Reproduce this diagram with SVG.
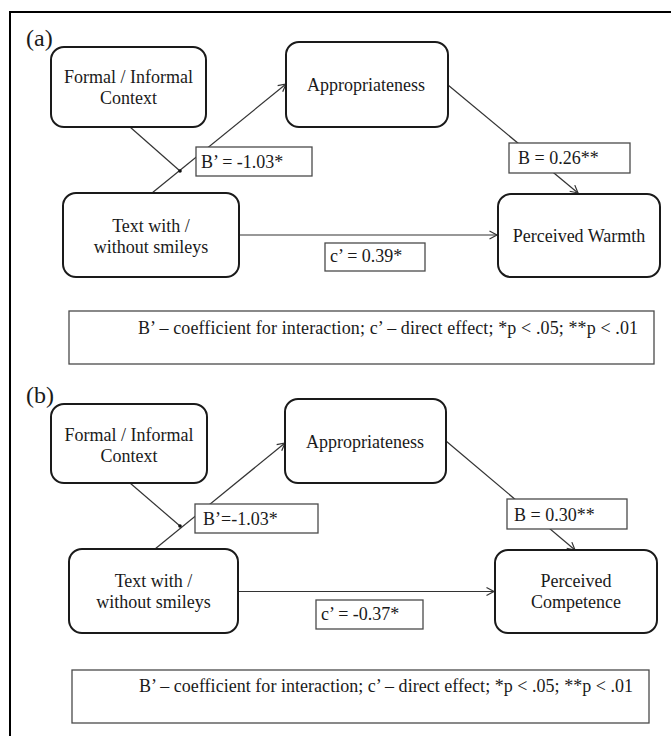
<svg xmlns="http://www.w3.org/2000/svg" width="671" height="736" viewBox="0 0 671 736">
<defs>
<style>
.node{fill:#fff;stroke:#1a1a1a;stroke-width:2}
.lab{fill:#fff;stroke:#4a4a4a;stroke-width:1.3}
.t{font-family:'Liberation Serif','Times New Roman',serif;font-size:18px;fill:#1a1a1a}
.pl{font-family:'Liberation Serif','Times New Roman',serif;font-size:24px;fill:#1a1a1a}
.c{fill:none;stroke:#333;stroke-width:1.2}
</style>
<marker id="ah" markerWidth="12" markerHeight="12" refX="10" refY="6" orient="auto" markerUnits="userSpaceOnUse">
<path d="M2.5,2 L10,6 L2.5,10" fill="none" stroke="#333" stroke-width="1.2"/>
</marker>
</defs>
<rect width="671" height="736" fill="#fff"/>
<path d="M10,736 V12 H671" fill="none" stroke="#000" stroke-width="2"/>

<g font-family="'Liberation Serif','Times New Roman',serif">
<!-- Panel (a) -->
<g id="connectors-a">
<line class="c" x1="152" y1="193" x2="286" y2="84" marker-end="url(#ah)"/>
<line class="c" x1="130" y1="127" x2="180" y2="171"/>
<circle cx="180" cy="171" r="1.8" fill="#111"/>
<line class="c" x1="448" y1="85" x2="578" y2="193" marker-end="url(#ah)"/>
<line class="c" x1="239" y1="235" x2="497" y2="235" marker-end="url(#ah)"/>
</g>
<text class="pl" x="26" y="46">(a)</text>
<g id="a-context"><rect class="node" x="51" y="47" width="155" height="80" rx="13"/>
<text class="t" x="128.5" y="83" text-anchor="middle">Formal / Informal</text>
<text class="t" x="128.5" y="104" text-anchor="middle">Context</text></g>
<g id="a-approp"><rect class="node" x="286" y="42" width="162" height="85" rx="13"/>
<text class="t" x="366" y="91" text-anchor="middle">Appropriateness</text></g>
<g id="a-text"><rect class="node" x="63" y="193" width="176" height="84" rx="13"/>
<text class="t" x="151" y="232" text-anchor="middle">Text with /</text>
<text class="t" x="151" y="253" text-anchor="middle">without smileys</text></g>
<g id="a-warmth"><rect class="node" x="498" y="194" width="162" height="83" rx="13"/>
<text class="t" x="579" y="242" text-anchor="middle">Perceived Warmth</text></g>
<g id="a-bprime"><rect class="lab" x="196" y="147" width="116" height="29"/>
<text class="t" x="201" y="168">B’ = -1.03*</text></g>
<g id="a-b"><rect class="lab" x="509" y="143" width="121" height="30"/>
<text class="t" x="518" y="164">B = 0.26**</text></g>
<g id="a-c"><rect class="lab" x="325" y="243" width="100" height="28"/>
<text class="t" x="330" y="262">c’ = 0.39*</text></g>
<g id="a-note"><rect class="lab" x="69" y="311" width="585" height="53"/>
<text class="t" x="138" y="334" textLength="500" lengthAdjust="spacing">B’ – coefficient for interaction; c’ – direct effect; *p &lt; .05; **p &lt; .01</text></g>

<!-- Panel (b) -->
<g id="connectors-b">
<line class="c" x1="155" y1="549" x2="285" y2="443" marker-end="url(#ah)"/>
<line class="c" x1="130" y1="483" x2="180" y2="526"/>
<circle cx="180" cy="526" r="1.8" fill="#111"/>
<line class="c" x1="446" y1="441" x2="575" y2="550" marker-end="url(#ah)"/>
<line class="c" x1="238" y1="591.5" x2="494" y2="591.5" marker-end="url(#ah)"/>
</g>
<text class="pl" x="26" y="403">(b)</text>
<g id="b-context"><rect class="node" x="51" y="404" width="156" height="79" rx="13"/>
<text class="t" x="129" y="441" text-anchor="middle">Formal / Informal</text>
<text class="t" x="129" y="462" text-anchor="middle">Context</text></g>
<g id="b-approp"><rect class="node" x="285" y="399" width="161" height="84" rx="13"/>
<text class="t" x="365" y="448" text-anchor="middle">Appropriateness</text></g>
<g id="b-text"><rect class="node" x="69" y="549" width="169" height="84" rx="13"/>
<text class="t" x="153.5" y="587" text-anchor="middle">Text with /</text>
<text class="t" x="153.5" y="608" text-anchor="middle">without smileys</text></g>
<g id="b-competence"><rect class="node" x="495" y="550" width="162" height="83" rx="13"/>
<text class="t" x="576" y="587" text-anchor="middle">Perceived</text>
<text class="t" x="576" y="608" text-anchor="middle">Competence</text></g>
<g id="b-bprime"><rect class="lab" x="195" y="504" width="123" height="29"/>
<text class="t" x="203" y="525">B’=-1.03*</text></g>
<g id="b-b"><rect class="lab" x="507" y="499" width="120" height="30"/>
<text class="t" x="514" y="521">B = 0.30**</text></g>
<g id="b-c"><rect class="lab" x="316" y="600" width="107" height="29"/>
<text class="t" x="321" y="620">c’ = -0.37*</text></g>
<g id="b-note"><rect class="lab" x="72" y="670" width="577" height="53"/>
<text class="t" x="139" y="692" textLength="494" lengthAdjust="spacing">B’ – coefficient for interaction; c’ – direct effect; *p &lt; .05; **p &lt; .01</text></g>
</g>
</svg>
